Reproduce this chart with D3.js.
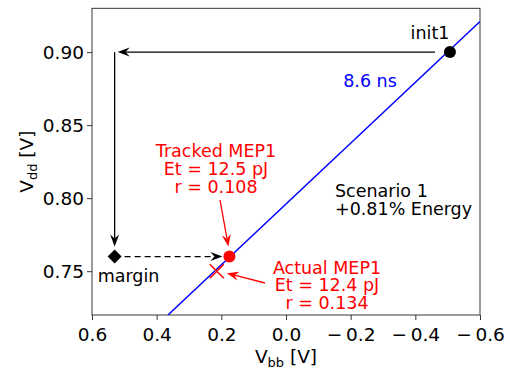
<!DOCTYPE html>
<html>
<head>
<meta charset="utf-8">
<script src="https://cdn.jsdelivr.net/npm/d3@7"></script>
<style>
  body { margin: 0; background: #fff; }
  svg text { font-family: "DejaVu Sans", sans-serif; }
</style>
</head>
<body>
<svg id="chart" width="510" height="371"></svg>
<script>
// chart data
const xTicks = [0.6, 0.4, 0.2, 0.0, -0.2, -0.4, -0.6];
const yTicks = [0.75, 0.80, 0.85, 0.90];
const delayLine = [[0.365, 0.72], [-0.6, 0.921]];   // 8.6 ns contour
const initPoint = [-0.507, 0.90];
const marginPoint = [0.53, 0.76];
const trackedPoint = [0.175, 0.76];
const actualPoint = [0.214, 0.75];
const trackedLabel = ["Tracked MEP1", "Et = 12.5 pJ", "r = 0.108"];
const actualLabel = ["Actual MEP1", "Et = 12.4 pJ", "r = 0.134"];
const scenarioLabel = ["Scenario 1", "+0.81% Energy"];

const svg = d3.select("#chart");
const plotLeft = 92, plotRight = 480, plotTop = 8.3, plotBottom = 315;

const x = d3.scaleLinear().domain([0.6, -0.6]).range([plotLeft, plotRight]);
const y = d3.scaleLinear().domain([0.72, 0.93]).range([plotBottom, plotTop]);

svg.append("clipPath").attr("id", "plotClip")
    .append("rect")
    .attr("x", plotLeft).attr("y", plotTop)
    .attr("width", plotRight - plotLeft).attr("height", plotBottom - plotTop);

// axes
const fmtX = d => (d < 0 ? "\u2212\u2009" : "") + Math.abs(d).toFixed(1);
const xAxis = svg.append("g")
    .attr("transform", `translate(0,${plotBottom})`)
    .call(d3.axisBottom(x).tickValues(xTicks).tickFormat(fmtX).tickSizeOuter(0).tickSize(5));
const yAxis = svg.append("g")
    .attr("transform", `translate(${plotLeft},0)`)
    .call(d3.axisLeft(y).tickValues(yTicks).tickFormat(d3.format(".2f")).tickSizeOuter(0).tickSize(5));

[xAxis, yAxis].forEach(a => {
    a.select(".domain").remove();
    a.selectAll(".tick line").attr("stroke", "#222").attr("stroke-width", 0.9);
    a.selectAll(".tick text")
        .attr("fill", "#000")
        .style("font-size", "18.5px")
        .style("font-family", "DejaVu Sans, sans-serif");
});
xAxis.selectAll(".tick text").attr("dy", "0.95em").attr("y", 8);
yAxis.selectAll(".tick text").attr("x", -8).attr("dy", "0.36em");

svg.append("rect")
    .attr("x", plotLeft).attr("y", plotTop)
    .attr("width", plotRight - plotLeft).attr("height", plotBottom - plotTop)
    .attr("fill", "none")
    .attr("stroke", "#222")
    .attr("stroke-width", 0.9);

// axis labels
const xLabel = svg.append("text")
    .attr("x", (plotLeft + plotRight) / 2).attr("y", 363)
    .attr("text-anchor", "middle")
    .style("font-size", "18.5px");
xLabel.append("tspan").text("V");
xLabel.append("tspan").attr("dy", 4).style("font-size", "13px").text("bb");
xLabel.append("tspan").attr("dy", -4).text(" [V]");

const yLabel = svg.append("text")
    .attr("transform", `translate(33,${(plotTop + plotBottom) / 2}) rotate(-90)`)
    .attr("text-anchor", "middle")
    .style("font-size", "18.5px");
yLabel.append("tspan").text("V");
yLabel.append("tspan").attr("dy", 4).style("font-size", "13px").text("dd");
yLabel.append("tspan").attr("dy", -4).text(" [V]");

const plot = svg.append("g").attr("clip-path", "url(#plotClip)");

// 8.6 ns contour
plot.append("path")
    .datum(delayLine)
    .attr("d", d3.line().x(d => x(d[0])).y(d => y(d[1])))
    .attr("fill", "none")
    .attr("stroke", "#0000ff")
    .attr("stroke-width", 1.5);

// arrow helper: line with a notched filled head at (x2,y2)
function drawArrow(x1, y1, x2, y2, color, dashed) {
    const ang = Math.atan2(y2 - y1, x2 - x1);
    const len = 12, half = 4.5, notch = 8;
    const ux = Math.cos(ang), uy = Math.sin(ang);
    const bx = x2 - ux * len, by = y2 - uy * len;
    const nx = x2 - ux * notch, ny = y2 - uy * notch;
    svg.append("line")
        .attr("x1", x1).attr("y1", y1)
        .attr("x2", nx).attr("y2", ny)
        .attr("stroke", color)
        .attr("stroke-width", 1.3)
        .attr("stroke-dasharray", dashed ? "6,4" : null);
    svg.append("path")
        .attr("d", `M${x2},${y2} L${bx - uy * half},${by + ux * half} L${nx},${ny} L${bx + uy * half},${by - ux * half} Z`)
        .attr("fill", color);
}

// init1 -> margin corner -> margin
drawArrow(x(initPoint[0]) - 15, y(initPoint[1]), x(marginPoint[0]) + 3, y(initPoint[1]), "#000", false);
drawArrow(x(marginPoint[0]), y(initPoint[1]), x(marginPoint[0]), y(marginPoint[1]) - 10, "#000", false);
// margin -> tracked (dashed)
drawArrow(x(marginPoint[0]) + 10, y(marginPoint[1]), x(trackedPoint[0]) - 7, y(trackedPoint[1]), "#000", true);

// red annotation arrows
drawArrow(220, 200, x(trackedPoint[0]) - 1, y(trackedPoint[1]) - 10, "#ff0000", false);
drawArrow(265, 283, x(actualPoint[0]) + 10, y(actualPoint[1]) + 2, "#ff0000", false);

// markers
svg.append("circle")
    .attr("cx", x(initPoint[0])).attr("cy", y(initPoint[1]))
    .attr("r", 6).attr("fill", "#000");
svg.append("path")
    .attr("transform", `translate(${x(marginPoint[0])},${y(marginPoint[1])})`)
    .attr("d", "M0,-7 L7,0 L0,7 L-7,0 Z")
    .attr("fill", "#000");
svg.append("circle")
    .attr("cx", x(trackedPoint[0])).attr("cy", y(trackedPoint[1]))
    .attr("r", 6).attr("fill", "#ff0000");
svg.append("path")
    .attr("transform", `translate(${x(actualPoint[0])},${y(actualPoint[1])})`)
    .attr("d", "M-7,-7 L7,7 M-7,7 L7,-7")
    .attr("stroke", "#ff0000")
    .attr("stroke-width", 1.5)
    .attr("fill", "none");

// text labels
function multiText(lines, cx, y0, dy, color, anchor) {
    const t = svg.append("text")
        .attr("text-anchor", anchor)
        .attr("fill", color)
        .style("font-size", "17.5px");
    lines.forEach((s, i) => {
        t.append("tspan").attr("x", cx).attr("y", y0 + i * dy).text(s);
    });
}
multiText(["init1"], 430, 39, 0, "#000", "middle");
multiText(["8.6 ns"], 370, 87, 0, "#0000ff", "middle");
multiText(["margin"], 128.5, 282, 0, "#000", "middle");
multiText(trackedLabel, 216, 157, 18, "#ff0000", "middle");
multiText(actualLabel, 327, 273.5, 17.5, "#ff0000", "middle");
multiText(scenarioLabel, 335, 197, 17.5, "#000", "start");
</script>
</body>
</html>
